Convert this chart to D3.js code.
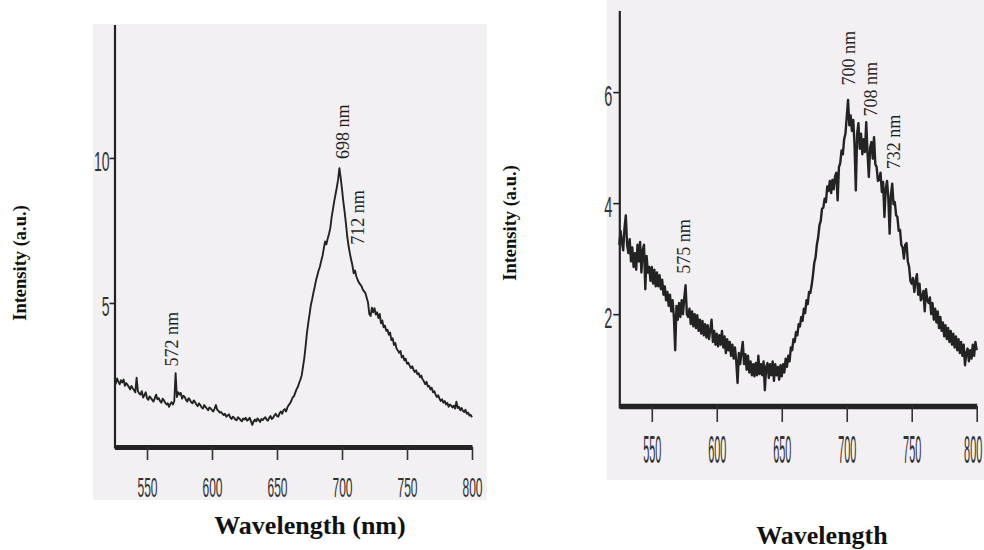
<!DOCTYPE html>
<html>
<head>
<meta charset="utf-8">
<script src="https://cdn.jsdelivr.net/npm/d3@7/dist/d3.min.js"></script>
<style>
  html, body { margin: 0; padding: 0; background: #ffffff; }
  svg { display: block; }
</style>
</head>
<body>
<svg id="chart" width="984" height="550"></svg>
<script>
// ---------------- DATA ----------------
const xTicks = [550, 600, 650, 700, 750, 800];
const leftYTicks = [5, 10];
const rightYTicks = [2, 4, 6];
const xLabelLeft = "Wavelength (nm)";
const xLabelRight = "Wavelength";
const yLabel = "Intensity (a.u.)";

// Left spectrum: [wavelength nm, intensity a.u.]
const leftSpectrum = [
  [525,2.30],[526,2.22],[527,2.40],[528,2.28],[529,2.20],[530,2.34],[531,2.26],[532,2.36],[533,2.14],[534,2.24],
  [535,2.18],[536,2.10],[537,2.02],[538,2.14],[539,2.06],[540,2.00],[541,1.92],[542,2.42],[543,1.96],[544,1.88],
  [545,1.84],[546,1.96],[547,1.74],[548,1.82],[549,1.92],[550,1.72],[551,1.66],[552,1.78],[553,1.72],[554,1.66],
  [555,1.60],[556,1.72],[557,1.84],[558,1.68],[559,1.72],[560,1.62],[561,1.56],[562,1.70],[563,1.64],[564,1.56],
  [565,1.50],[566,1.54],[567,1.42],[568,1.52],[569,1.58],[570,1.50],[571,1.62],[572,2.58],[573,1.76],[574,1.92],
  [575,1.84],[576,1.90],[577,1.70],[578,1.80],[579,1.76],[580,1.66],[581,1.60],[582,1.72],[583,1.66],[584,1.58],
  [585,1.54],[586,1.64],[587,1.58],[588,1.50],[589,1.44],[590,1.54],[591,1.48],[592,1.40],[593,1.36],[594,1.48],
  [595,1.42],[596,1.36],[597,1.30],[598,1.40],[599,1.36],[600,1.30],[601,1.26],[602,1.36],[603,1.48],[604,1.32],
  [605,1.28],[606,1.22],[607,1.24],[608,1.18],[609,1.14],[610,1.18],[611,1.08],[612,1.12],[613,1.16],[614,1.06],
  [615,1.00],[616,1.08],[617,1.04],[618,0.98],[619,0.96],[620,1.06],[621,1.02],[622,0.96],[623,0.92],[624,1.02],
  [625,0.98],[626,1.04],[627,0.94],[628,0.98],[629,1.04],[630,0.92],[631,0.80],[632,0.92],[633,0.98],[634,0.92],
  [635,1.02],[636,0.96],[637,0.90],[638,1.00],[639,0.96],[640,1.02],[641,1.06],[642,0.98],[643,0.94],[644,1.04],
  [645,1.10],[646,1.00],[647,1.04],[648,1.12],[649,1.18],[650,1.10],[651,1.08],[652,1.20],[653,1.26],[654,1.18],
  [655,1.30],[656,1.34],[657,1.26],[658,1.40],[659,1.48],[660,1.54],[661,1.62],[662,1.74],[663,1.78],[664,1.90],
  [665,2.02],[666,2.10],[667,2.24],[668,2.36],[669,2.50],[670,2.80],[671,3.10],[672,3.50],[673,3.95],[674,4.30],
  [675,4.60],[676,4.92],[677,5.12],[678,5.35],[679,5.55],[680,5.78],[681,5.95],[682,6.12],[683,6.25],[684,6.45],
  [685,6.62],[686,6.88],[687,7.12],[688,7.02],[689,7.22],[690,7.38],[691,7.58],[692,7.95],[693,8.22],[694,8.50],
  [695,8.74],[696,8.98],[697,9.25],[698,9.65],[699,9.30],[700,8.92],[701,8.50],[702,8.15],[703,7.75],[704,7.30],
  [705,6.98],[706,6.72],[707,6.50],[708,6.30],[709,6.02],[710,6.12],[711,5.92],[712,5.80],[713,5.70],[714,5.64],
  [715,5.58],[716,5.46],[717,5.40],[718,5.34],[719,5.18],[720,5.02],[721,4.62],[722,4.55],[723,4.84],[724,4.68],
  [725,4.82],[726,4.60],[727,4.68],[728,4.48],[729,4.62],[730,4.30],[731,4.40],[732,4.16],[733,4.22],[734,4.04],
  [735,4.08],[736,3.90],[737,3.98],[738,3.72],[739,3.78],[740,3.55],[741,3.62],[742,3.42],[743,3.36],[744,3.28],
  [745,3.34],[746,3.12],[747,3.18],[748,3.02],[749,3.08],[750,2.90],[751,2.94],[752,2.84],[753,2.76],[754,2.82],
  [755,2.70],[756,2.62],[757,2.68],[758,2.54],[759,2.58],[760,2.44],[761,2.50],[762,2.36],[763,2.30],[764,2.20],
  [765,2.28],[766,2.12],[767,2.14],[768,2.02],[769,2.08],[770,1.92],[771,1.96],[772,1.84],[773,1.76],[774,1.82],
  [775,1.70],[776,1.62],[777,1.68],[778,1.56],[779,1.62],[780,1.50],[781,1.56],[782,1.42],[783,1.50],[784,1.46],
  [785,1.40],[786,1.46],[787,1.36],[788,1.60],[789,1.38],[790,1.42],[791,1.30],[792,1.38],[793,1.28],[794,1.24],
  [795,1.32],[796,1.18],[797,1.22],[798,1.12],[799,1.14],[800,1.06]
];

// Right spectrum: [wavelength nm, intensity a.u.]
const rightSpectrum = [
  [525,3.25],[526,3.50],[527,3.30],[528,3.15],[529,3.55],[530,3.78],[531,3.25],[532,3.10],[533,3.35],[534,2.95],
  [535,3.20],[536,2.85],[537,3.10],[538,2.80],[539,3.25],[540,2.95],[541,3.30],[542,2.75],[543,3.15],[544,3.25],
  [545,2.45],[546,3.05],[547,2.75],[548,2.85],[549,2.60],[550,2.85],[551,2.55],[552,2.80],[553,2.50],[554,2.75],
  [555,2.50],[556,2.70],[557,2.45],[558,2.62],[559,2.35],[560,2.50],[561,2.25],[562,2.40],[563,2.15],[564,2.35],
  [565,2.05],[566,2.25],[567,1.95],[568,1.35],[569,2.15],[570,1.90],[571,2.20],[572,1.95],[573,2.25],[574,2.00],
  [575,2.30],[576,2.52],[577,2.00],[578,1.95],[579,2.10],[580,1.82],[581,2.05],[582,1.78],[583,2.00],[584,1.75],
  [585,1.98],[586,1.70],[587,1.90],[588,1.65],[589,1.88],[590,1.62],[591,1.82],[592,1.58],[593,1.80],[594,1.55],
  [595,1.72],[596,1.90],[597,1.50],[598,1.70],[599,1.45],[600,1.65],[601,1.42],[602,1.62],[603,1.45],[604,1.70],
  [605,1.40],[606,1.60],[607,1.30],[608,1.55],[609,1.35],[610,1.50],[611,1.25],[612,1.45],[613,1.20],[614,1.40],
  [615,1.15],[616,0.76],[617,1.30],[618,1.10],[619,1.32],[620,1.50],[621,1.10],[622,1.28],[623,1.00],[624,1.25],
  [625,0.95],[626,1.15],[627,0.90],[628,1.10],[629,0.88],[630,1.12],[631,0.90],[632,1.25],[633,0.92],[634,1.10],
  [635,0.90],[636,1.15],[637,0.63],[638,1.05],[639,1.12],[640,0.85],[641,1.10],[642,0.90],[643,1.15],[644,0.80],
  [645,1.10],[646,0.90],[647,1.05],[648,0.82],[649,1.08],[650,0.88],[651,1.10],[652,0.95],[653,1.20],[654,1.05],
  [655,1.25],[656,1.15],[657,1.40],[658,1.35],[659,1.55],[660,1.50],[661,1.68],[662,1.62],[663,1.82],[664,1.78],
  [665,1.95],[666,1.88],[667,2.10],[668,2.02],[669,2.25],[670,2.18],[671,2.40],[672,2.38],[673,2.52],[674,2.70],
  [675,2.92],[676,3.02],[677,3.25],[678,3.38],[679,3.60],[680,3.68],[681,3.90],[682,3.92],[683,4.08],[684,4.02],
  [685,4.30],[686,4.22],[687,4.40],[688,4.18],[689,4.42],[690,4.25],[691,4.48],[692,4.55],[693,4.05],[694,4.65],
  [695,4.72],[696,4.95],[697,4.88],[698,5.15],[699,5.25],[700,5.55],[701,5.86],[702,5.40],[703,5.58],[704,5.30],
  [705,5.50],[706,5.05],[707,4.23],[708,5.25],[709,5.44],[710,4.98],[711,5.25],[712,4.88],[713,5.15],[714,4.92],
  [715,5.46],[716,4.90],[717,4.47],[718,5.00],[719,5.10],[720,4.80],[721,5.19],[722,4.70],[723,4.65],[724,4.40],
  [725,4.42],[726,4.55],[727,4.20],[728,4.38],[729,3.75],[730,4.25],[731,4.40],[732,4.10],[733,3.45],[734,4.15],
  [735,4.35],[736,3.98],[737,4.02],[738,3.78],[739,3.75],[740,3.50],[741,3.52],[742,3.25],[743,3.20],[744,3.00],
  [745,3.25],[746,3.28],[747,2.95],[748,2.85],[749,2.60],[750,2.55],[751,2.65],[752,2.40],[753,2.60],[754,2.72],
  [755,2.35],[756,2.55],[757,2.25],[758,2.30],[759,2.42],[760,2.05],[761,2.45],[762,2.25],[763,2.20],[764,2.30],
  [765,2.00],[766,2.20],[767,1.90],[768,2.10],[769,1.85],[770,2.05],[771,1.75],[772,1.95],[773,1.70],[774,1.85],
  [775,1.60],[776,1.80],[777,1.55],[778,1.75],[779,1.50],[780,1.70],[781,1.45],[782,1.65],[783,1.40],[784,1.60],
  [785,1.35],[786,1.55],[787,1.30],[788,1.50],[789,1.25],[790,1.45],[791,1.08],[792,1.30],[793,1.38],[794,1.15],
  [795,1.35],[796,1.20],[797,1.45],[798,1.25],[799,1.50],[800,1.35]
];

// Peak annotations: [text, wavelength where label sits, intensity where label is centred]
const leftPeaks = [["572 nm", 569.5, 3.75], ["698 nm", 701, 10.9], ["712 nm", 712, 7.95]];
const rightPeaks = [["575 nm", 574.5, 3.22], ["700 nm", 702, 6.61], ["708 nm", 718.5, 6.05], ["732 nm", 736, 5.1]];

// ---------------- DRAW ----------------
const svg = d3.select("#chart");
const paper = "#f3f0f3";
const ink = "#232323";

function panel(cfg) {
  const g = svg.append("g");
  g.append("rect").attr("x", cfg.bg[0]).attr("y", cfg.bg[1])
    .attr("width", cfg.bg[2]).attr("height", cfg.bg[3]).attr("fill", paper);

  const x = d3.scaleLinear().domain([525, 800]).range(cfg.xr);
  const y = d3.scaleLinear().domain(cfg.yd).range(cfg.yr);

  // curve
  const line = d3.line().x(d => x(d[0])).y(d => y(d[1]));
  g.append("path").datum(cfg.data).attr("d", line)
    .attr("fill", "none").attr("stroke", ink)
    .attr("stroke-width", cfg.lw).attr("stroke-linejoin", "round");

  // y axis
  const ya = g.append("g").attr("transform", `translate(${cfg.xr[0]},0)`)
    .call(d3.axisLeft(y).tickValues(cfg.yTicks).tickSize(cfg.ytick).tickSizeOuter(0).tickFormat(d3.format("d")));
  ya.select(".domain").attr("stroke", ink).attr("stroke-width", 2.2);
  ya.selectAll(".tick line").attr("stroke", ink).attr("stroke-width", 1.6);
  ya.selectAll(".tick text")
    .attr("fill", "#333")
    .style("font-family", "'Liberation Sans', Arial, sans-serif")
    .style("font-size", cfg.yfs + "px")
    .attr("text-anchor", "end")
    .attr("dy", null)
    .attr("y", cfg.ylabOff)
    .attr("x", cfg.ylabX / cfg.ysx)
    .attr("transform", `scale(${cfg.ysx},1)`);

  // x axis
  const xa = g.append("g").attr("transform", `translate(0,${cfg.axisY})`)
    .call(d3.axisBottom(x).tickValues(xTicks).tickSize(cfg.xtick).tickSizeOuter(0).tickFormat(d3.format("d")));
  xa.select(".domain").attr("stroke", ink).attr("stroke-width", cfg.axisW);
  xa.selectAll(".tick line").attr("stroke", "#333").attr("stroke-width", 1.6);
  xa.selectAll(".tick text")
    .attr("fill", "#333")
    .style("font-family", "'Liberation Sans', Arial, sans-serif")
    .style("font-size", cfg.xfs + "px")
    .attr("dy", null)
    .attr("y", cfg.xlabOff)
    .attr("transform", `scale(${cfg.xsx},1)`);
  if (cfg.lastShift) {
    // keep the last label inside the page edge
    xa.selectAll(".tick text").filter(d => d === xTicks[xTicks.length - 1])
      .attr("x", cfg.lastShift / cfg.xsx);
  }

  // peak labels
  g.selectAll("text.peak").data(cfg.peaks).enter().append("text")
    .attr("class", "peak")
    .attr("transform", d => `translate(${x(d[1])},${y(d[2])}) rotate(-90)`)
    .attr("text-anchor", "middle")
    .attr("dominant-baseline", "central")
    .style("font-family", "'Liberation Serif', 'Times New Roman', serif")
    .style("font-size", "18px")
    .attr("fill", "#1f1f1f")
    .text(d => d[0]);

  // axis titles
  svg.append("text")
    .attr("transform", `translate(${cfg.yTitle[0]},${cfg.yTitle[1]}) rotate(-90)`)
    .attr("text-anchor", "middle").attr("dominant-baseline", "central")
    .style("font-family", "'Liberation Serif', 'Times New Roman', serif")
    .style("font-weight", "bold").style("font-size", "18.5px")
    .attr("fill", "#111").text(yLabel);
  svg.append("text")
    .attr("x", cfg.xTitle[0]).attr("y", cfg.xTitle[1])
    .attr("text-anchor", "middle")
    .style("font-family", "'Liberation Serif', 'Times New Roman', serif")
    .style("font-weight", "bold").style("font-size", "26px")
    .attr("fill", "#111").text(cfg.xTitleText);
}

panel({
  bg: [93, 24, 394, 476],
  xr: [114.5, 472], yd: [0, 14.6], yr: [448, 24.5],
  data: leftSpectrum, lw: 1.9,
  yTicks: leftYTicks, ytick: 5, yfs: 28, ysx: 0.5, ylabOff: 13, ylabX: -5,
  axisY: 447, axisW: 5, xtick: 13, xfs: 28, xsx: 0.43, xlabOff: 50,
  peaks: leftPeaks,
  yTitle: [20, 263], xTitle: [310, 534], xTitleText: xLabelLeft
});

panel({
  bg: [607, 0, 377, 480],
  xr: [619.3, 976.7], yd: [0.31, 7.47], yr: [408, 10.5],
  data: rightSpectrum, lw: 2.4,
  yTicks: rightYTicks, ytick: 6, yfs: 29, ysx: 0.5, ylabOff: 13, ylabX: -7,
  axisY: 406, axisW: 5.5, xtick: 16, xfs: 39, xsx: 0.28, xlabOff: 57,
  lastShift: -4,
  peaks: rightPeaks,
  yTitle: [510, 223], xTitle: [822, 544], xTitleText: xLabelRight
});
</script>
</body>
</html>
